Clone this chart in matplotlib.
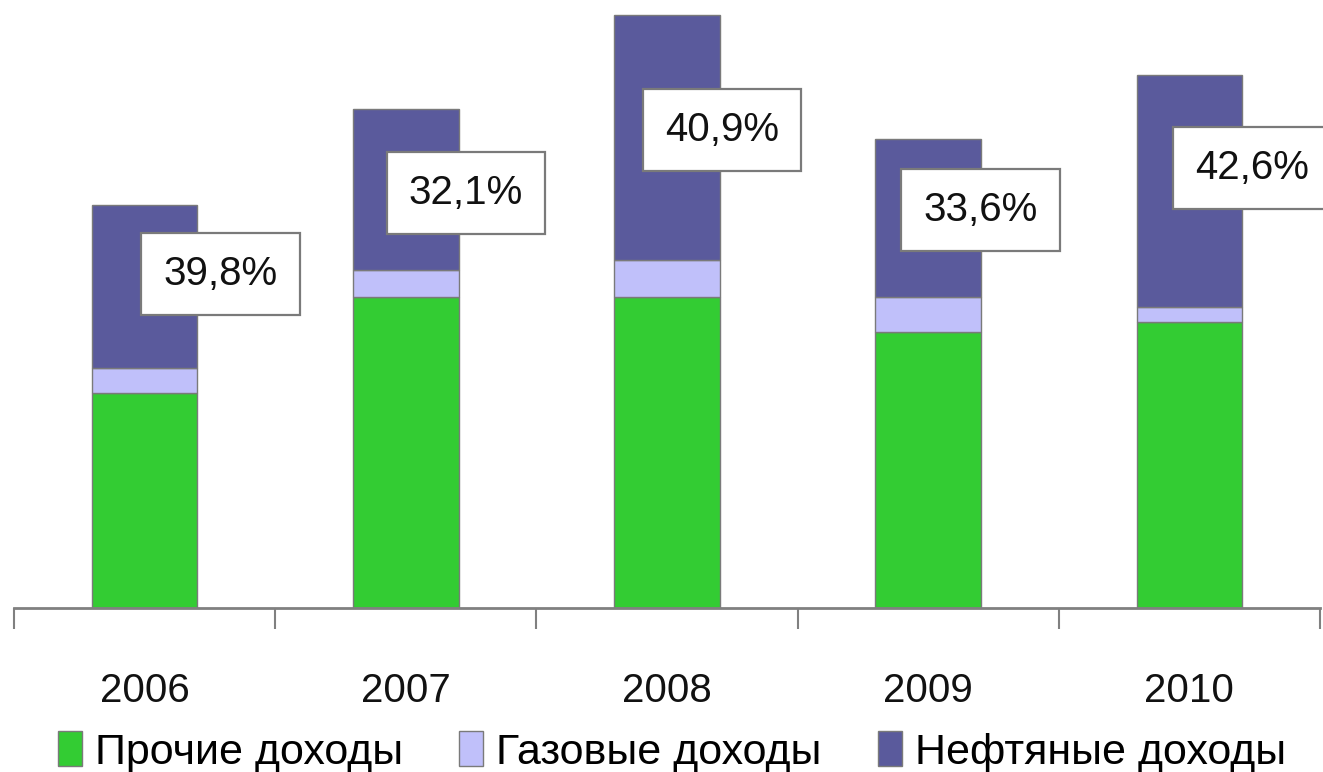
import matplotlib.pyplot as plt
from matplotlib.patches import Patch

# Federal budget revenues, trillion rubles
years = ['2006', '2007', '2008', '2009', '2010']
other = [3.38, 4.88, 4.88, 4.33, 4.49]   # Прочие доходы
gas = [0.39, 0.42, 0.58, 0.55, 0.24]     # Газовые доходы
oil = [2.56, 2.54, 3.85, 2.48, 3.64]     # Нефтяные доходы
oil_share = ['39,8%', '32,1%', '40,9%', '33,6%', '42,6%']

series_names = ['Прочие доходы', 'Газовые доходы', 'Нефтяные доходы']
colors = ['#33cc33', '#c0c0fa', '#5a5a9c']

# label box centres (x offset from bar, y in data units)
label_dx = [0.29, 0.23, 0.21, 0.20, 0.24]
label_y = [5.24, 6.51, 7.50, 6.25, 6.91]

plt.rcParams['font.family'] = ['Liberation Sans', 'DejaVu Sans']

fig = plt.figure(figsize=(13.23, 7.72), dpi=100)
ax = fig.add_axes([14 / 1323, 1 - 608 / 772, 1306 / 1323, 608 / 772])

x = list(range(len(years)))
w = 0.405
bottom2 = [a + b for a, b in zip(other, gas)]
ax.bar(x, other, w, color=colors[0], edgecolor='#7a7a7a', linewidth=1)
ax.bar(x, gas, w, bottom=other, color=colors[1], edgecolor='#7a7a7a', linewidth=1)
ax.bar(x, oil, w, bottom=bottom2, color=colors[2], edgecolor='#7a7a7a', linewidth=1)

for i, s in enumerate(oil_share):
    ax.text(i + label_dx[i], label_y[i], s, ha='center', va='center',
            fontsize=29, color='#111111',
            bbox=dict(boxstyle='square,pad=0.55', fc='white', ec='#7a7a7a', lw=1.6))

ax.set_xlim(-0.5, 4.5)
ax.set_ylim(0, 608 / 63.7)
for side in ['top', 'left', 'right']:
    ax.spines[side].set_visible(False)
ax.spines['bottom'].set_color('#808080')
ax.spines['bottom'].set_linewidth(2)
ax.set_yticks([])
ax.set_xticks(x)
ax.set_xticklabels(years, fontsize=29, color='#111111')
ax.set_xticks([i - 0.5 for i in range(len(years) + 1)], minor=True)
ax.tick_params(axis='x', which='major', length=0, pad=46)
ax.tick_params(axis='x', which='minor', length=15, width=1.5, color='#808080')

handles = [Patch(facecolor=c, edgecolor='#7a7a7a', linewidth=1) for c in colors]
fig.legend(handles, series_names, loc='center left', bbox_to_anchor=(58 / 1323, 1 - 752 / 772),
           ncol=3, frameon=False, fontsize=31, borderpad=0, borderaxespad=0,
           handlelength=0.56, handleheight=0.88, handletextpad=0.3, columnspacing=1.3)

fig.savefig('out.png', dpi=100)
